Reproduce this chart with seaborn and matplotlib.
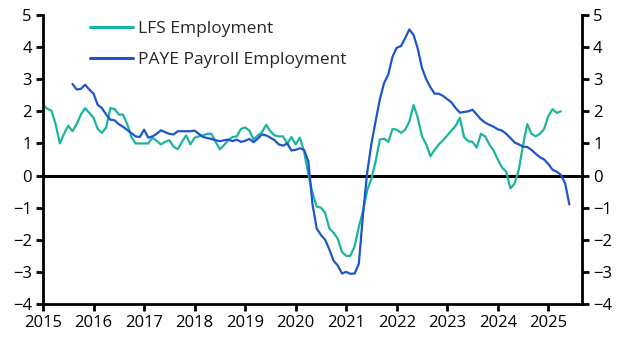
import numpy as np
import pandas as pd
import matplotlib
matplotlib.use("Agg")
import matplotlib.pyplot as plt
import seaborn as sns

# Monthly data, LFS from Jan 2015, PAYE from Aug 2015 (% y/y)
lfs = [2.2, 2.08, 2.02, 1.6, 1.0, 1.3, 1.55, 1.38, 1.6, 1.9, 2.1, 1.95,
       1.8, 1.45, 1.33, 1.5, 2.1, 2.07, 1.9, 1.9, 1.6, 1.2, 1.0, 1.0,
       1.0, 1.0, 1.18, 1.08, 0.97, 1.05, 1.1, 0.9, 0.82, 1.05, 1.25, 0.97,
       1.18, 1.22, 1.25, 1.3, 1.3, 1.05, 0.82, 0.95, 1.1, 1.2, 1.22, 1.45,
       1.5, 1.4, 1.12, 1.25, 1.35, 1.58, 1.38, 1.25, 1.22, 1.22, 1.0, 1.2,
       0.97, 1.18, 0.75, 0.05, -0.55, -0.97, -1.0, -1.16, -1.65, -1.78, -1.97, -2.38,
       -2.5, -2.5, -2.2, -1.6, -1.1, -0.45, -0.1, 0.45, 1.12, 1.15, 1.05, 1.45,
       1.43, 1.33, 1.42, 1.68, 2.2, 1.8, 1.22, 0.97, 0.6, 0.8, 0.97, 1.1,
       1.25, 1.4, 1.55, 1.8, 1.2, 1.07, 1.05, 0.87, 1.3, 1.22, 0.97, 0.78,
       0.5, 0.25, 0.12, -0.4, -0.25, 0.19, 0.95, 1.6, 1.3, 1.22, 1.3, 1.45,
       1.85, 2.07, 1.95, 2.0]
paye = [2.85, 2.68, 2.7, 2.83, 2.68,
        2.55, 2.2, 2.1, 1.9, 1.74, 1.72, 1.6, 1.52, 1.42, 1.32, 1.22, 1.2,
        1.43, 1.18, 1.22, 1.3, 1.41, 1.35, 1.3, 1.28, 1.38, 1.38, 1.38, 1.38,
        1.4, 1.3, 1.2, 1.17, 1.14, 1.1, 1.07, 1.1, 1.12, 1.07, 1.12, 1.05,
        1.08, 1.14, 1.04, 1.15, 1.28, 1.25, 1.18, 1.1, 0.97, 0.93, 1.0, 0.78,
        0.8, 0.85, 0.8, 0.45, -0.9, -1.65, -1.85, -2.0, -2.3, -2.65, -2.8, -3.05,
        -3.0, -3.06, -3.05, -2.75, -1.2, 0.1, 1.0, 1.7, 2.38, 2.88, 3.15, 3.7,
        3.98, 4.03, 4.28, 4.55, 4.38, 3.95, 3.35, 3.0, 2.75, 2.55, 2.55, 2.48,
        2.38, 2.28, 2.1, 1.96, 1.98, 2.0, 2.05, 1.9, 1.75, 1.65, 1.58, 1.52,
        1.44, 1.4, 1.3, 1.17, 1.03, 0.97, 0.9, 0.89, 0.8, 0.68, 0.57, 0.5,
        0.36, 0.18, 0.12, 0.02, -0.25, -0.9]
lfs_start = 0   # month index from Jan 2015
paye_start = 7

years = list(range(2015, 2026))
yticks = list(range(-4, 6))

df = pd.concat([
    pd.DataFrame({"x": 2015 + (lfs_start + np.arange(len(lfs))) / 12, "y": lfs,
                  "series": "LFS Employment"}),
    pd.DataFrame({"x": 2015 + (paye_start + np.arange(len(paye))) / 12, "y": paye,
                  "series": "PAYE Payroll Employment"}),
])

sns.set_style("white")
plt.rcParams["font.family"] = ["Open Sans", "DejaVu Sans"]

fig = plt.figure(figsize=(6.31, 3.56), dpi=100)
ax = fig.add_axes([43 / 631, 1 - 304 / 356, (582 - 43) / 631, (304 - 15) / 356])

palette = {"LFS Employment": "#1AB5A0", "PAYE Payroll Employment": "#1F55CC"}
sns.lineplot(data=df, x="x", y="y", hue="series", palette=palette, ax=ax,
             linewidth=1.6, legend=True)

ax.axhline(0, color="black", linewidth=2.2, zorder=1)
ax.set_xlim(2015, 2025 + 8 / 12)
ax.set_ylim(-4, 5)
ax.set_xticks(years)
ax.set_xticklabels([str(y) for y in years])
ax.set_yticks(yticks)
ax.set_xlabel("")
ax.set_ylabel("")

for s in ["left", "right", "bottom"]:
    ax.spines[s].set_visible(True)
    ax.spines[s].set_color("black")
    ax.spines[s].set_linewidth(2.0)
ax.spines["top"].set_visible(False)

ax.tick_params(axis="both", which="both", direction="out", length=5, width=2,
               color="black", labelsize=12, labelcolor="black", pad=3)
ax.tick_params(axis="y", left=True, right=True, labelleft=True, labelright=True)
ax.tick_params(axis="x", bottom=True)

leg = ax.legend(loc="upper left", bbox_to_anchor=(0.058, 1.035), frameon=False,
                fontsize=12.5, handlelength=2.5, handletextpad=0.3, labelspacing=0.9)
for line in leg.get_lines():
    line.set_linewidth(2.2)

fig.savefig("out.png", dpi=100)
